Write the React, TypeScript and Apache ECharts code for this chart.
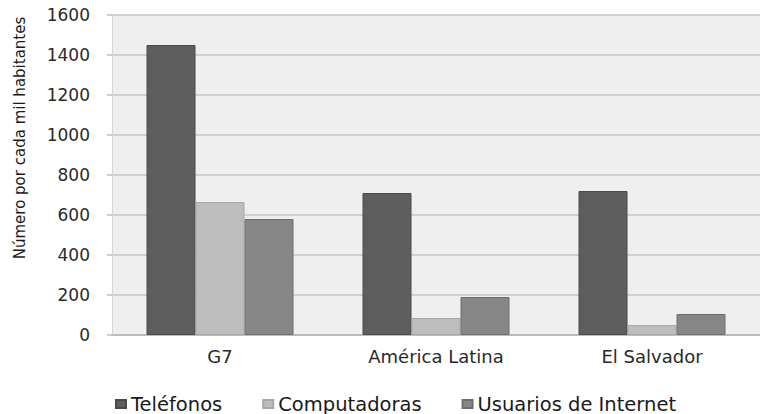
import React, { useEffect, useRef } from "react";
import * as echarts from "echarts";

const categories = ["G7", "América Latina", "El Salvador"];
const seriesNames = ["Teléfonos", "Computadoras", "Usuarios de Internet"];
const telefonos = [1450, 710, 720];
const computadoras = [665, 85, 50];
const usuarios = [580, 190, 105];
const yTitle = "Número por cada mil habitantes";

const FONT = "DejaVu Sans, Verdana, sans-serif";

export default function App() {
  const ref = useRef<HTMLDivElement>(null);
  useEffect(() => {
    if (!ref.current) return;
    const chart = echarts.init(ref.current, undefined, { renderer: "svg" });
    const colors = ["#5e5e5e", "#bdbdbd", "#878787"];
    const borders = ["#4a4a4a", "#a8a8a8", "#6f6f6f"];
    const values = [telefonos, computadoras, usuarios];
    chart.setOption({
      animation: false,
      backgroundColor: "#ffffff",
      grid: {
        left: 112,
        width: 654,
        top: 15,
        bottom: 79,
        show: true,
        backgroundColor: "#efefef",
        borderWidth: 0,
      },
      legend: {
        left: 110,
        top: 389,
        icon: "rect",
        itemWidth: 10,
        itemHeight: 8,
        itemGap: 40,
        textStyle: { fontFamily: FONT, fontSize: 19.5, color: "#1a1a1a" },
        data: seriesNames,
      },
      xAxis: {
        type: "category",
        data: categories,
        axisLine: { show: true, lineStyle: { color: "#bcbcbc", width: 2 } },
        axisTick: { show: false },
        axisLabel: { fontFamily: FONT, fontSize: 18, color: "#2a2a2a", margin: 12 },
      },
      yAxis: {
        type: "value",
        min: 0,
        max: 1600,
        interval: 200,
        axisLine: { show: true, lineStyle: { color: "#d4d4d4", width: 1 } },
        axisTick: { show: true, length: 5, lineStyle: { color: "#bcbcbc", width: 1.5 } },
        axisLabel: {
          fontFamily: FONT,
          fontSize: 17,
          color: "#2a2a2a",
          margin: 22,
          formatter: (v: number) => String(v),
        },
        splitLine: { show: true, lineStyle: { color: "#c6c6c6", width: 1.5 } },
      },
      graphic: [
        {
          type: "text",
          x: 20,
          y: 138,
          rotation: Math.PI / 2,
          style: {
            text: yTitle,
            fontFamily: FONT,
            fontSize: 15,
            fill: "#1a1a1a",
            textAlign: "center",
            textVerticalAlign: "middle",
          },
        },
      ],
      series: seriesNames.map((name, i) => ({
        name,
        type: "bar",
        data: values[i],
        barWidth: 49,
        barGap: "0%",
        itemStyle: { color: colors[i], borderColor: borders[i], borderWidth: 1 },
      })),
    });
    return () => chart.dispose();
  }, []);
  return (
    <div
      ref={ref}
      style={{ position: "fixed", left: 0, top: 0, width: 760, height: 414, background: "#fff" }}
    />
  );
}
